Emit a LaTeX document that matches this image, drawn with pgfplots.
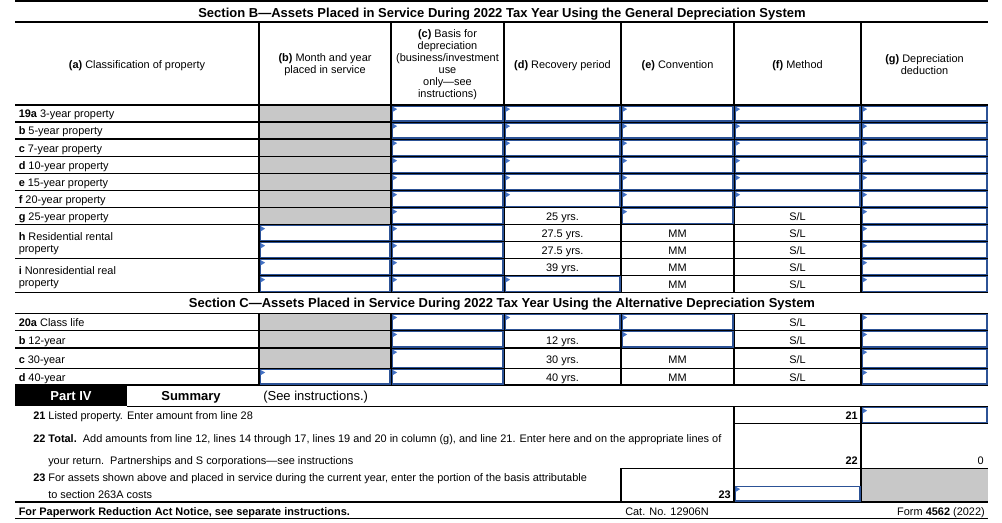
\documentclass[border=0pt]{standalone}
\usepackage{pgfplots}
\pgfplotsset{compat=1.18}
\usepackage{fontspec}
\setmainfont{Liberation Sans}
\definecolor{boxblue}{RGB}{44,82,150}
\definecolor{flagblue}{RGB}{68,114,196}
\definecolor{greyfill}{RGB}{200,200,200}
\newcommand{\sm}{\fontsize{8.2}{9}\selectfont}
\newcommand{\bg}{\fontsize{9.75}{11}\selectfont}
% blue input box inside a cell: x1 x2 y1 y2 (pixel units of the axis)
\newcommand{\inbox}[4]{%
  \draw[boxblue,line width=1pt] ([shift={(1pt,-1pt)}]axis cs:#1,#3) rectangle ([shift={(-0.7pt,0.7pt)}]axis cs:#2,#4);
  \fill[flagblue] ([shift={(1.2pt,-1.2pt)}]axis cs:#1,#3) -- ([shift={(4.6pt,-3.1pt)}]axis cs:#1,#3) -- ([shift={(1.2pt,-5.2pt)}]axis cs:#1,#3) -- cycle;}
\newcommand{\hl}[3]{\draw[black,line width=0.8pt] (axis cs:#1,#3) -- (axis cs:#2,#3);}
\newcommand{\vl}[3]{\draw[black,line width=0.8pt] (axis cs:#1,#2) -- (axis cs:#1,#3);}
\begin{document}
\begin{tikzpicture}[every node/.append style={yshift=-0.6pt}]
\begin{axis}[scale only axis, width=751.5pt, height=392.25pt,
  xmin=0, xmax=1002, ymin=0, ymax=523, y dir=reverse, hide axis, clip=false]
\path (axis cs:0,0) rectangle (axis cs:1002,523);
% grey fills
\fill[greyfill] (axis cs:259,105) rectangle (axis cs:391,224.5);
\fill[greyfill] (axis cs:259,313.3) rectangle (axis cs:391,368.3);
\fill[greyfill] (axis cs:861,468.3) rectangle (axis cs:988,502);
% Part IV black box
\fill[black] (axis cs:15,385) rectangle (axis cs:127,406.5);
% horizontal lines, section B
\hl{15}{988}{1}
\hl{15}{988}{22}
\hl{15}{988}{105}
\hl{15}{988}{122}
\hl{15}{988}{139}
\hl{15}{988}{156.5}
\hl{15}{988}{173.5}
\hl{15}{988}{190.5}
\hl{15}{988}{207.5}
\hl{15}{988}{224.5}
\hl{259}{988}{241.5}
\hl{15}{988}{258.5}
\hl{259}{988}{275.5}
\hl{15}{988}{292.5}
% section C
\hl{15}{988}{313.3}
\hl{15}{988}{330.3}
\hl{15}{988}{348}
\hl{15}{988}{368.3}
\hl{15}{988}{385}
\hl{127}{988}{406.5}
\hl{734}{988}{423.3}
\hl{621}{988}{468.3}
\draw[black,line width=0.9pt] (axis cs:15,502) -- (axis cs:988,502);
\draw[black,line width=0.9pt] (axis cs:15,518.5) -- (axis cs:988,518.5);
% vertical lines
\vl{259}{22}{292.5}
\vl{391}{22}{292.5}
\vl{504}{22}{292.5}
\vl{621}{22}{292.5}
\vl{734}{22}{292.5}
\vl{861}{22}{292.5}
\vl{259}{313.3}{385}
\vl{391}{313.3}{385}
\vl{504}{313.3}{385}
\vl{621}{313.3}{385}
\vl{734}{313.3}{385}
\vl{861}{313.3}{385}
\vl{734}{406.5}{502}
\vl{861}{406.5}{502}
\vl{621}{468.3}{502}
% input boxes, section B rows a-f
\inbox{391}{504}{105}{122}\inbox{504}{621}{105}{122}\inbox{621}{734}{105}{122}\inbox{734}{861}{105}{122}\inbox{861}{988}{105}{122}
\inbox{391}{504}{122}{139}\inbox{504}{621}{122}{139}\inbox{621}{734}{122}{139}\inbox{734}{861}{122}{139}\inbox{861}{988}{122}{139}
\inbox{391}{504}{139}{156.5}\inbox{504}{621}{139}{156.5}\inbox{621}{734}{139}{156.5}\inbox{734}{861}{139}{156.5}\inbox{861}{988}{139}{156.5}
\inbox{391}{504}{156.5}{173.5}\inbox{504}{621}{156.5}{173.5}\inbox{621}{734}{156.5}{173.5}\inbox{734}{861}{156.5}{173.5}\inbox{861}{988}{156.5}{173.5}
\inbox{391}{504}{173.5}{190.5}\inbox{504}{621}{173.5}{190.5}\inbox{621}{734}{173.5}{190.5}\inbox{734}{861}{173.5}{190.5}\inbox{861}{988}{173.5}{190.5}
\inbox{391}{504}{190.5}{207.5}\inbox{504}{621}{190.5}{207.5}\inbox{621}{734}{190.5}{207.5}\inbox{734}{861}{190.5}{207.5}\inbox{861}{988}{190.5}{207.5}
% row g
\inbox{391}{504}{207.5}{224.5}\inbox{621}{734}{207.5}{224.5}\inbox{861}{988}{207.5}{224.5}
% rows h
\inbox{259}{391}{224.5}{241.5}\inbox{391}{504}{224.5}{241.5}\inbox{861}{988}{224.5}{241.5}
\inbox{259}{391}{241.5}{258.5}\inbox{391}{504}{241.5}{258.5}\inbox{861}{988}{241.5}{258.5}
% rows i
\inbox{259}{391}{258.5}{275.5}\inbox{391}{504}{258.5}{275.5}\inbox{861}{988}{258.5}{275.5}
\inbox{259}{391}{275.5}{292.5}\inbox{391}{504}{275.5}{292.5}\inbox{504}{621}{275.5}{292.5}\inbox{861}{988}{275.5}{292.5}
% section C
\inbox{391}{504}{313.3}{330.3}\inbox{504}{621}{313.3}{330.3}\inbox{621}{734}{313.3}{330.3}\inbox{861}{988}{313.3}{330.3}
\inbox{391}{504}{330.3}{348}\inbox{621}{734}{330.3}{348}\inbox{861}{988}{330.3}{348}
\inbox{391}{504}{348}{368.3}\inbox{861}{988}{348}{368.3}
\inbox{259}{391}{368.3}{385}\inbox{391}{504}{368.3}{385}\inbox{861}{988}{368.3}{385}
% summary boxes
\inbox{861}{988}{406.5}{423.3}
\inbox{734}{861}{485}{502}
% titles
\node[font=\bg\bfseries, inner sep=0pt, anchor=mid] at (axis cs:502,13) {Section B—Assets Placed in Service During 2022 Tax Year Using the General Depreciation System};
\node[font=\bg\bfseries, inner sep=0pt, anchor=mid] at (axis cs:502,303) {Section C—Assets Placed in Service During 2022 Tax Year Using the Alternative Depreciation System};
% header
\node[font=\sm, inner sep=0pt, anchor=mid] at (axis cs:137,64) {\textbf{(a)} Classification of property};
\node[font=\sm, inner sep=0pt, align=center] at (axis cs:325,64) {\textbf{(b)} Month and year\\placed in service};
\node[font=\sm, inner sep=0pt, align=center] at (axis cs:447.5,64) {\textbf{(c)} Basis for\\depreciation\\(business/investment\\use\\only—see\\instructions)};
\node[font=\sm, inner sep=0pt, anchor=mid] at (axis cs:562.5,64) {\textbf{(d)} Recovery period};
\node[font=\sm, inner sep=0pt, anchor=mid] at (axis cs:677.5,64) {\textbf{(e)} Convention};
\node[font=\sm, inner sep=0pt, anchor=mid] at (axis cs:797.5,64) {\textbf{(f)} Method};
\node[font=\sm, inner sep=0pt, align=center] at (axis cs:924.5,64) {\textbf{(g)} Depreciation\\deduction};
% row labels B
\node[font=\sm, inner sep=0pt, anchor=mid west] at (axis cs:18.5,113.5) {\textbf{19a} 3-year property};
\node[font=\sm, inner sep=0pt, anchor=mid west] at (axis cs:18.5,130.5) {\textbf{b} 5-year property};
\node[font=\sm, inner sep=0pt, anchor=mid west] at (axis cs:18.5,147.7) {\textbf{c} 7-year property};
\node[font=\sm, inner sep=0pt, anchor=mid west] at (axis cs:18.5,165) {\textbf{d} 10-year property};
\node[font=\sm, inner sep=0pt, anchor=mid west] at (axis cs:18.5,182) {\textbf{e} 15-year property};
\node[font=\sm, inner sep=0pt, anchor=mid west] at (axis cs:18.5,199) {\textbf{f} 20-year property};
\node[font=\sm, inner sep=0pt, anchor=mid west] at (axis cs:18.5,216) {\textbf{g} 25-year property};
\node[font=\sm, inner sep=0pt, anchor=mid west] at (axis cs:18.5,236) {\textbf{h} Residential rental};
\node[font=\sm, inner sep=0pt, anchor=mid west] at (axis cs:18.5,248) {property};
\node[font=\sm, inner sep=0pt, anchor=mid west] at (axis cs:18.5,270) {\textbf{i} Nonresidential real};
\node[font=\sm, inner sep=0pt, anchor=mid west] at (axis cs:18.5,282) {property};
% fixed entries B
\node[font=\sm, inner sep=0pt, anchor=mid] at (axis cs:562.5,216) {25 yrs.};
\node[font=\sm, inner sep=0pt, anchor=mid] at (axis cs:562.5,233) {27.5 yrs.};
\node[font=\sm, inner sep=0pt, anchor=mid] at (axis cs:562.5,250) {27.5 yrs.};
\node[font=\sm, inner sep=0pt, anchor=mid] at (axis cs:562.5,267) {39 yrs.};
\node[font=\sm, inner sep=0pt, anchor=mid] at (axis cs:677.5,233) {MM};
\node[font=\sm, inner sep=0pt, anchor=mid] at (axis cs:677.5,250) {MM};
\node[font=\sm, inner sep=0pt, anchor=mid] at (axis cs:677.5,267) {MM};
\node[font=\sm, inner sep=0pt, anchor=mid] at (axis cs:677.5,284) {MM};
\node[font=\sm, inner sep=0pt, anchor=mid] at (axis cs:797.5,216) {S/L};
\node[font=\sm, inner sep=0pt, anchor=mid] at (axis cs:797.5,233) {S/L};
\node[font=\sm, inner sep=0pt, anchor=mid] at (axis cs:797.5,250) {S/L};
\node[font=\sm, inner sep=0pt, anchor=mid] at (axis cs:797.5,267) {S/L};
\node[font=\sm, inner sep=0pt, anchor=mid] at (axis cs:797.5,284) {S/L};
% row labels C
\node[font=\sm, inner sep=0pt, anchor=mid west] at (axis cs:18.5,322) {\textbf{20a} Class life};
\node[font=\sm, inner sep=0pt, anchor=mid west] at (axis cs:18.5,340) {\textbf{b} 12-year};
\node[font=\sm, inner sep=0pt, anchor=mid west] at (axis cs:18.5,359) {\textbf{c} 30-year};
\node[font=\sm, inner sep=0pt, anchor=mid west] at (axis cs:18.5,377) {\textbf{d} 40-year};
\node[font=\sm, inner sep=0pt, anchor=mid] at (axis cs:562.5,340) {12 yrs.};
\node[font=\sm, inner sep=0pt, anchor=mid] at (axis cs:562.5,359) {30 yrs.};
\node[font=\sm, inner sep=0pt, anchor=mid] at (axis cs:562.5,377) {40 yrs.};
\node[font=\sm, inner sep=0pt, anchor=mid] at (axis cs:677.5,359) {MM};
\node[font=\sm, inner sep=0pt, anchor=mid] at (axis cs:677.5,377) {MM};
\node[font=\sm, inner sep=0pt, anchor=mid] at (axis cs:797.5,322) {S/L};
\node[font=\sm, inner sep=0pt, anchor=mid] at (axis cs:797.5,340) {S/L};
\node[font=\sm, inner sep=0pt, anchor=mid] at (axis cs:797.5,359) {S/L};
\node[font=\sm, inner sep=0pt, anchor=mid] at (axis cs:797.5,377) {S/L};
% Part IV
\node[font=\bg\bfseries, text=white, inner sep=0pt, anchor=mid] at (axis cs:71,396) {Part IV};
\node[font=\bg\bfseries, inner sep=0pt, anchor=mid] at (axis cs:191,396) {Summary};
\node[font=\bg, inner sep=0pt, anchor=mid west] at (axis cs:263,396) {(See instructions.)};
% lines 21-23
\node[font=\sm, inner sep=0pt, anchor=mid west] at (axis cs:33,415.5) {\textbf{21} Listed property. Enter amount from line 28};
\node[font=\sm, inner sep=0pt, anchor=mid east] at (axis cs:858,415.5) {\textbf{21}};
\node[font=\sm, inner sep=0pt, anchor=mid west] at (axis cs:33,438.3) {\textbf{22 Total.}\ \ Add amounts from line 12, lines 14 through 17, lines 19 and 20 in column (g), and line 21. Enter here and on the appropriate lines of};
\node[font=\sm, inner sep=0pt, anchor=mid west] at (axis cs:48,460) {your return.\ \ Partnerships and S corporations—see instructions};
\node[font=\sm, inner sep=0pt, anchor=mid east] at (axis cs:858,460) {\textbf{22}};
\node[font=\sm, inner sep=0pt, anchor=mid east] at (axis cs:984,460) {0};
\node[font=\sm, inner sep=0pt, anchor=mid west] at (axis cs:33,477.3) {\textbf{23} For assets shown above and placed in service during the current year, enter the portion of the basis attributable};
\node[font=\sm, inner sep=0pt, anchor=mid west] at (axis cs:48,494) {to section 263A costs};
\node[font=\sm, inner sep=0pt, anchor=mid east] at (axis cs:731,494) {\textbf{23}};
% footer
\node[font=\sm\bfseries, inner sep=0pt, anchor=mid west] at (axis cs:18.5,510.7) {For Paperwork Reduction Act Notice, see separate instructions.};
\node[font=\sm, inner sep=0pt, anchor=mid west] at (axis cs:625,510.7) {Cat. No. 12906N};
\node[font=\sm, inner sep=0pt, anchor=mid east] at (axis cs:985,510.7) {Form \textbf{4562} (2022)};
\end{axis}
\end{tikzpicture}
\end{document}
